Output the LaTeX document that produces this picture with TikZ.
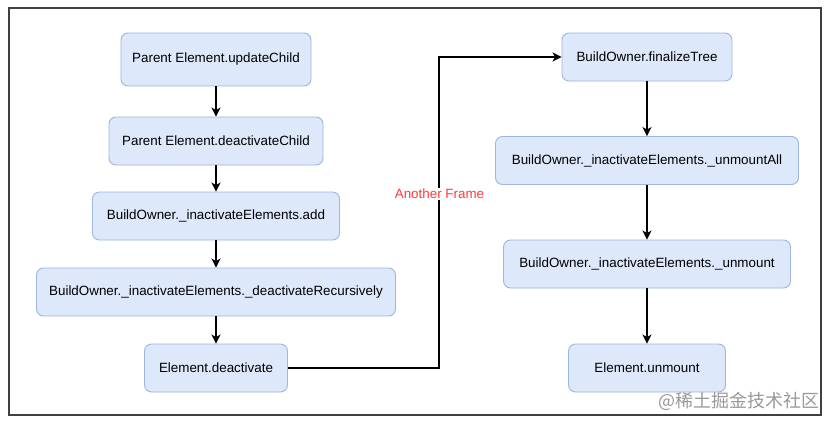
\documentclass[tikz,border=0pt]{standalone}
\usepackage{fontspec}
\setmainfont{Liberation Sans}
\newfontfamily\cjk{Noto Sans CJK SC}
\usetikzlibrary{arrows.meta}
\definecolor{boxfill}{HTML}{DDE8FB}
\definecolor{boxline}{HTML}{9DB6DF}
\definecolor{lblred}{HTML}{FF3B3B}
\tikzset{
  flowbox/.style={draw=boxline, fill=boxfill, line width=0.9pt, rounded corners=7pt,
    inner sep=0pt, minimum height=48pt, font=\fontsize{13.4}{16}\selectfont, text=black},
  flowarrow/.style={line width=2pt, -{Stealth[length=9pt,width=9pt,inset=2.5pt]}},
}
\begin{document}
\begin{tikzpicture}[x=1pt,y=-1pt]
\useasboundingbox (0,0) rectangle (830,424);
\fill[white] (0,0) rectangle (830,424);
\draw[line width=1.6pt, draw=black!75] (9,8) rectangle (821,415);

\node[flowbox, minimum width=190pt, minimum height=53pt] (upd) at (216,59.5) {Parent Element.updateChild};
\node[flowbox, minimum width=214pt] (deac) at (216,141) {Parent Element.deactivateChild};
\node[flowbox, minimum width=247pt] (add) at (216,216) {BuildOwner.\_inactivateElements.add};
\node[flowbox, minimum width=359pt] (rec) at (216,292) {BuildOwner.\_inactivateElements.\_deactivateRecursively};
\node[flowbox, minimum width=143pt] (edeac) at (216,368) {Element.deactivate};

\node[flowbox, minimum width=170pt] (fin) at (647,57) {BuildOwner.finalizeTree};
\node[flowbox, minimum width=303pt] (uall) at (647,160.5) {BuildOwner.\_inactivateElements.\_unmountAll};
\node[flowbox, minimum width=287pt] (um) at (647,264) {BuildOwner.\_inactivateElements.\_unmount};
\node[flowbox, minimum width=157pt] (eum) at (647,368) {Element.unmount};

\draw[flowarrow] (upd.south) -- (deac.north);
\draw[flowarrow] (deac.south) -- (add.north);
\draw[flowarrow] (add.south) -- (rec.north);
\draw[flowarrow] (rec.south) -- (edeac.north);
\draw[flowarrow] (fin.south) -- (uall.north);
\draw[flowarrow] (uall.south) -- (um.north);
\draw[flowarrow] (um.south) -- (eum.north);

\coordinate (bend) at (439,368);
\draw[flowarrow] (edeac.east) -- (bend) |- (fin.west);

\node[fill=white, inner sep=1.5pt, text=lblred, font=\fontsize{13.4}{16}\selectfont] (lbl) at (439.5,194) {Another Frame};

\node[text=black!40, font=\cjk\fontsize{18}{20}\selectfont, inner sep=0pt] (wm) at (739,401) {@稀土掘金技术社区};
\end{tikzpicture}
\end{document}
